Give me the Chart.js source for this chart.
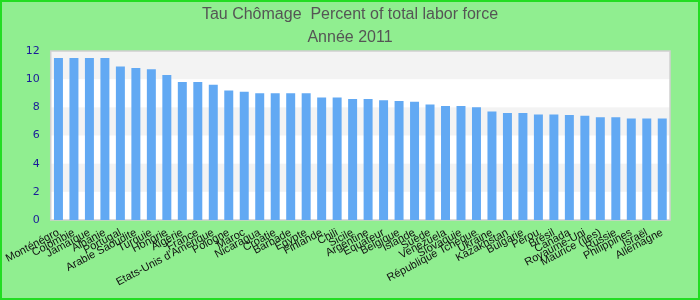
<!DOCTYPE html>
<html>
<head>
<meta charset="utf-8">
<script src="https://cdn.jsdelivr.net/npm/chart.js@4"></script>
<style>
  html, body { margin: 0; padding: 0; background: #90ee90; }
  #wrap { width: 700px; height: 300px; }
</style>
</head>
<body>
<div id="wrap"><canvas id="chomageChart" width="700" height="300"></canvas></div>
<script>
const countries = [
    'Monténégro', 'Colombie', 'Jamaïque', 'Albanie', 'Portugal', 'Arabie Saoudite', 'Turquie', 'Hongrie',
    'Algérie', 'France', "Etats-Unis d'Amérique", 'Pologne', 'Maroc', 'Nicaragua', 'Croatie', 'Barbade',
    'Egypte', 'Finlande', 'Chili', 'Sicile', 'Argentine', 'Equateur', 'Belgique', 'Islande',
    'Suède', 'Venezuela', 'Slovaquie', 'République Tchèque', 'Ukraine', 'Kazakhstan', 'Bulgarie', 'Pérou',
    'Brésil', 'Canada', 'Royaume-Uni', 'Maurice (îles)', 'Russie', 'Philippines', 'Israël', 'Allemagne'
];
const unemployment = [
    11.5, 11.5, 11.5, 11.5, 10.9, 10.8, 10.7, 10.3,
    9.8, 9.8, 9.6, 9.2, 9.1, 9.0, 9.0, 9.0,
    9.0, 8.7, 8.7, 8.6, 8.6, 8.5, 8.45, 8.4,
    8.2, 8.1, 8.1, 8.0, 7.7, 7.6, 7.6, 7.5,
    7.5, 7.45, 7.4, 7.3, 7.3, 7.2, 7.2, 7.2
];
const yTicks = [0, 2, 4, 6, 8, 10, 12];
const titleLines = ['Tau Chômage  Percent of total labor force', 'Année 2011'];

// page background, green frame, banded plot area, centred title
const backdrop = {
    id: 'backdrop',
    beforeDraw(chart) {
        const { ctx, chartArea: a, scales: { y } } = chart;
        ctx.save();
        ctx.fillStyle = '#90ee90';
        ctx.fillRect(0, 0, chart.width, chart.height);
        ctx.strokeStyle = '#22dd22';
        ctx.lineWidth = 2;
        ctx.strokeRect(1, 1, chart.width - 2, chart.height - 2);
        ctx.fillStyle = '#ffffff';
        ctx.fillRect(a.left, a.top, a.width, a.height);
        ctx.fillStyle = '#f3f3f3';
        for (let i = 0; i < yTicks.length - 1; i++) {
            if (i % 2 === 0) continue;
            const top = y.getPixelForValue(yTicks[i + 1]);
            const bot = y.getPixelForValue(yTicks[i]);
            ctx.fillRect(a.left, top, a.width, bot - top);
        }
        ctx.strokeStyle = '#d0d0d0';
        ctx.lineWidth = 1.5;
        ctx.strokeRect(a.left, a.top, a.width, a.height);

        ctx.fillStyle = '#555555';
        ctx.font = '16px "Liberation Sans", Arial, sans-serif';
        ctx.textAlign = 'center';
        ctx.textBaseline = 'middle';
        titleLines.forEach((t, i) => ctx.fillText(t, chart.width / 2, 15 + i * 23));
        ctx.restore();
    }
};

const ctx = document.getElementById('chomageChart').getContext('2d');
new Chart(ctx, {
    type: 'bar',
    data: {
        labels: countries,
        datasets: [{
            data: unemployment,
            backgroundColor: '#62a9f3',
            borderWidth: 0,
            categoryPercentage: 1,
            barPercentage: 0.58
        }]
    },
    options: {
        responsive: false,
        animation: false,
        layout: { padding: { top: 51, right: 30, left: 0, bottom: 0 } },
        plugins: {
            legend: { display: false },
            tooltip: { enabled: false },
            title: { display: false }
        },
        scales: {
            x: {
                grid: { display: false, drawTicks: false },
                border: { display: false },
                ticks: {
                    autoSkip: false,
                    minRotation: 28,
                    maxRotation: 28,
                    padding: 6,
                    color: '#111111',
                    font: { family: 'Liberation Sans, Arial, sans-serif', size: 11 }
                },
                afterFit(s) { s.height = 80; }
            },
            y: {
                min: 0,
                max: 12,
                afterBuildTicks(s) { s.ticks = yTicks.map(v => ({ value: v })); },
                grid: { display: false, drawTicks: false },
                border: { display: false },
                ticks: {
                    padding: 11,
                    color: '#1a1a99',
                    font: { family: 'DejaVu Sans, sans-serif', size: 11 }
                },
                afterFit(s) { s.width = 50; }
            }
        }
    },
    plugins: [backdrop]
});
</script>
</body>
</html>
